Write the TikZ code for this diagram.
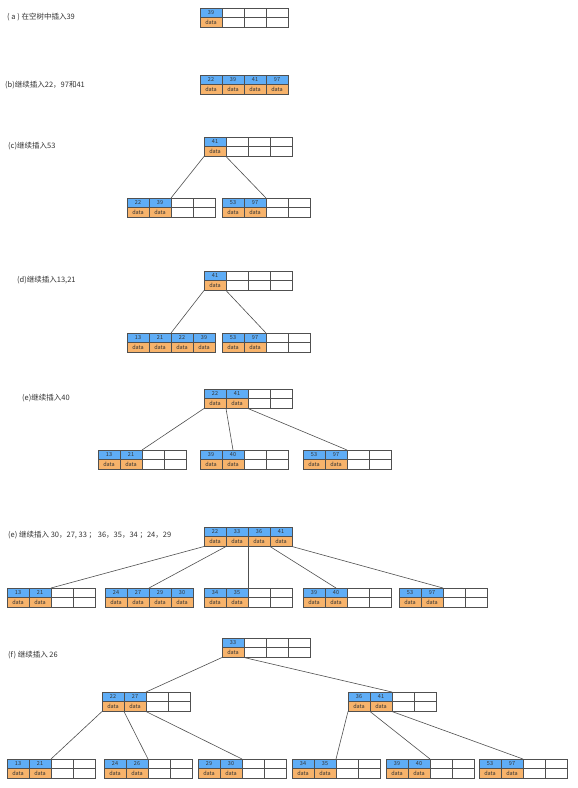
\documentclass[tikz,border=0pt]{standalone}
\usepackage{fontspec}
\setmainfont{Noto Sans CJK SC}
\definecolor{keyblue}{HTML}{5FADF6}
\definecolor{dataorange}{HTML}{F7B36B}
\definecolor{cellline}{HTML}{505050}
\definecolor{labeltext}{HTML}{333333}
\tikzset{
  cellbase/.style={draw=cellline, line width=0.8pt, minimum width=22pt, minimum height=9.75pt, inner sep=0pt, outer sep=0pt, font=\fontsize{5.5}{5.5}\selectfont, text=labeltext},
  kcell/.style={cellbase, fill=keyblue},
  dcell/.style={cellbase, fill=dataorange},
  wcell/.style={cellbase, fill=white},
  steplabel/.style={anchor=west, inner sep=0pt, font=\fontsize{7.5}{9}\selectfont, text=labeltext},
  link/.style={draw=cellline, line width=0.6pt}
}
\newcommand\bcell[5]{% name, index, x, y, key
  \ifx\relax#5\relax
    \node[wcell] (#1-k#2) at ({#3+22*(#2-0.5)},{#4+4.875}) {};
    \node[wcell] (#1-d#2) at ({#3+22*(#2-0.5)},{#4+14.625}) {};
  \else
    \node[kcell] (#1-k#2) at ({#3+22*(#2-0.5)},{#4+4.875}) {#5};
    \node[dcell] (#1-d#2) at ({#3+22*(#2-0.5)},{#4+14.625}) {data};
  \fi}
\newcommand\btn[7]{% name, x, y, k1..k4
  \bcell{#1}{1}{#2}{#3}{#4}\bcell{#1}{2}{#2}{#3}{#5}%
  \bcell{#1}{3}{#2}{#3}{#6}\bcell{#1}{4}{#2}{#3}{#7}}
\begin{document}
\begin{tikzpicture}[x=1pt,y=-1pt]
\useasboundingbox[fill=white] (0,0) rectangle (578,788);
% (a)
\node[steplabel] (la) at (7,17) {( a ) 在空树中插入39};
\btn{a}{200}{8}{39}{}{}{}
% (b)
\node[steplabel] (lb) at (5,85) {(b)继续插入22，97和41};
\btn{b}{200}{75}{22}{39}{41}{97}
% (c)
\node[steplabel] (lc) at (8,146) {(c)继续插入53};
\btn{c}{204}{137}{41}{}{}{}
\btn{cl}{127}{198}{22}{39}{}{}
\btn{cr}{222}{198}{53}{97}{}{}
\draw[link] (c-d1.south west) -- (cl-k2.north east);
\draw[link] (c-d1.south east) -- (cr-k2.north east);
% (d)
\node[steplabel] (ld) at (17,280) {(d)继续插入13,21};
\btn{d}{204}{271}{41}{}{}{}
\btn{dl}{127}{333}{13}{21}{22}{39}
\btn{dr}{222}{333}{53}{97}{}{}
\draw[link] (d-d1.south west) -- (dl-k2.north east);
\draw[link] (d-d1.south east) -- (dr-k2.north east);
% (e)
\node[steplabel] (le) at (22,398) {(e)继续插入40};
\btn{e}{204}{389}{22}{41}{}{}
\btn{e1}{98}{450}{13}{21}{}{}
\btn{e2}{200}{450}{39}{40}{}{}
\btn{e3}{303}{450}{53}{97}{}{}
\draw[link] (e-d1.south west) -- (e1-k2.north east);
\draw[link] (e-d1.south east) -- (e2-k2.north);
\draw[link] (e-d2.south east) -- (e3-k2.north east);
% (e) second
\node[steplabel] (lg) at (8,535) {(e) 继续插入 30，27, 33 ；\ 36，35，34 ；24，29};
\btn{g}{204}{527}{22}{33}{36}{41}
\btn{g1}{7}{588}{13}{21}{}{}
\btn{g2}{105}{588}{24}{27}{29}{30}
\btn{g3}{204}{588}{34}{35}{}{}
\btn{g4}{303}{588}{39}{40}{}{}
\btn{g5}{399}{588}{53}{97}{}{}
\draw[link] (g-d1.south west) -- (g1-k2.north east);
\draw[link] (g-d1.south east) -- (g2-k2.north east);
\draw[link] (g-d2.south east) -- (g3-k2.north east);
\draw[link] (g-d3.south east) -- (g4-k2.north);
\draw[link] (g-d4.south east) -- (g5-k2.north east);
% (f)
\node[steplabel] (lf) at (8,655) {(f) 继续插入 26};
\btn{f}{222}{638}{33}{}{}{}
\btn{fl}{102}{692}{22}{27}{}{}
\btn{fr}{348}{692}{36}{41}{}{}
\btn{f1}{7}{759}{13}{21}{}{}
\btn{f2}{104}{759}{24}{26}{}{}
\btn{f3}{198}{759}{29}{30}{}{}
\btn{f4}{292}{759}{34}{35}{}{}
\btn{f5}{386}{759}{39}{40}{}{}
\btn{f6}{479}{759}{53}{97}{}{}
\draw[link] (f-d1.south west) -- (fl-k2.north east);
\draw[link] (f-d1.south east) -- (fr-k2.north east);
\draw[link] (fl-d1.south west) -- (f1-k2.north east);
\draw[link] (fl-d1.south east) -- (f2-k2.north east);
\draw[link] (fl-d2.south east) -- (f3-k2.north east);
\draw[link] (fr-d1.south west) -- (f4-k2.north east);
\draw[link] (fr-d1.south east) -- (f5-k2.north east);
\draw[link] (fr-d2.south east) -- (f6-k2.north east);
\end{tikzpicture}
\end{document}
